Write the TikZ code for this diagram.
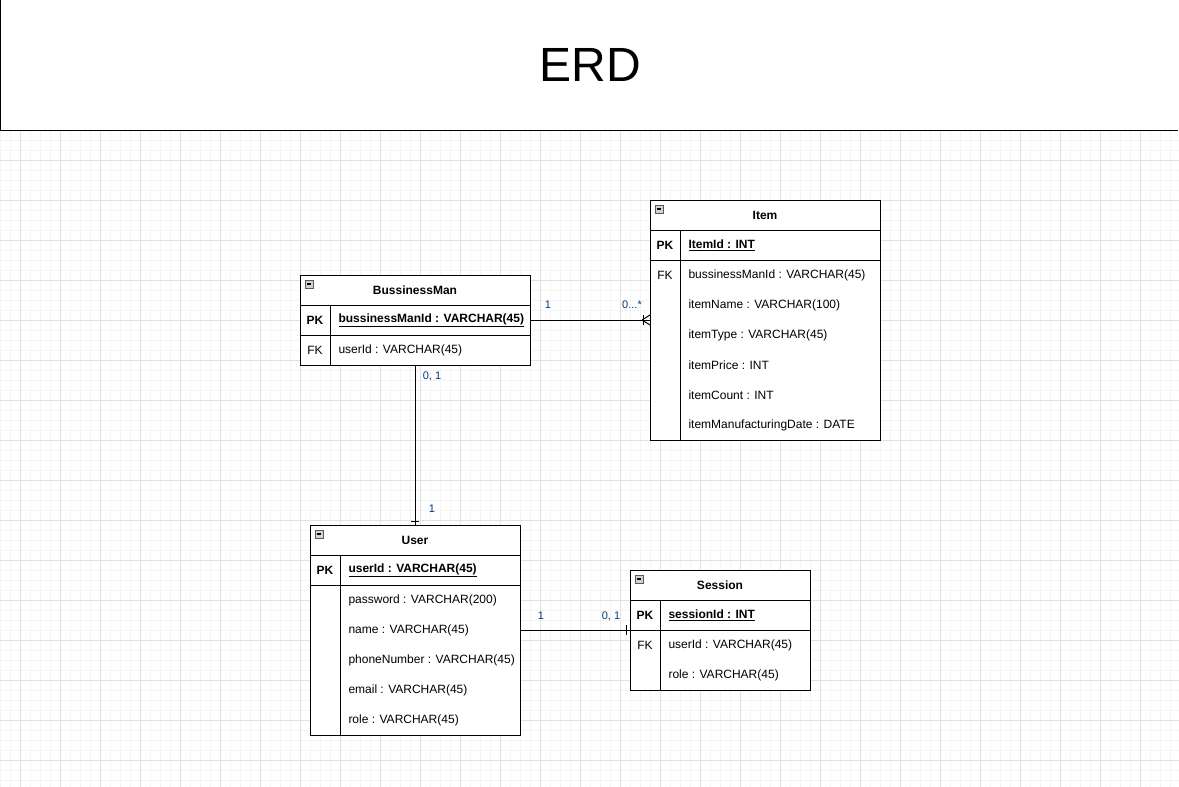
\documentclass[tikz,border=0pt]{standalone}
\usepackage{fontspec}
\setmainfont{Liberation Sans}

\definecolor{gridminor}{RGB}{244,244,244}
\definecolor{gridmajor}{RGB}{226,226,226}
\definecolor{cardblue}{RGB}{0,60,120}

\tikzset{
  tbl/.style={draw, line width=1pt, inner sep=0pt, outer sep=0pt, anchor=north west, fill=white},
  ttl/.style={font=\fontsize{12}{14}\selectfont\bfseries},
  key/.style={font=\fontsize{12}{14}\selectfont},
  pkey/.style={font=\fontsize{12}{14}\selectfont\bfseries},
  fld/.style={font=\fontsize{12}{14}\selectfont, anchor=west, inner sep=0pt},
  card/.style={font=\fontsize{11}{13}\selectfont, text=cardblue},
  rel/.style={line width=1pt},
  minusicon/.pic={
    \draw[fill=gray!35, draw=gray!70!black, line width=0.6pt] (5,5) rectangle (13,13);
    \draw[line width=1.2pt] (6.8,9) -- (11.2,9);
  }
}

\begin{document}
\begin{tikzpicture}[x=1pt, y=-1pt, line width=1pt]
\useasboundingbox (0,0) rectangle (1179,787);

% background grid
\foreach \x in {0,10,...,1170} \draw[gridminor] (\x,130) -- (\x,787);
\foreach \y in {140,150,...,780} \draw[gridminor] (0,\y) -- (1179,\y);
\foreach \x in {20,60,...,1140} \draw[gridmajor] (\x,130) -- (\x,787);
\foreach \y in {160,200,...,760} \draw[gridmajor] (0,\y) -- (1179,\y);

% title bar
\draw (0,0) -- (0,130) -- (1178,130);
\node[font=\fontsize{48}{56}\selectfont] (title) at (590,65) {ERD};

% BussinessMan table
\node[tbl, minimum width=230pt, minimum height=90pt] (bm) at (300,275) {};
\draw (300,305) -- (530,305);
\draw (300,335) -- (530,335);
\draw (330,305) -- (330,365);
\pic at (bm.north west) {minusicon};
\node[ttl] (bmname) at (415,290) {BussinessMan};
\node[pkey] (bmpk) at (315,320) {PK};
\node[fld] (bmid) at (338,320) {\bfseries\underline{bussinessManId : VARCHAR(45)}};
\node[key] (bmfk) at (315,350) {FK};
\node[fld] (bmuser) at (338,350) {userId : VARCHAR(45)};

% Item table
\node[tbl, minimum width=230pt, minimum height=240pt] (item) at (650,200) {};
\draw (650,230) -- (880,230);
\draw (650,260) -- (880,260);
\draw (680,230) -- (680,440);
\pic at (item.north west) {minusicon};
\node[ttl] (itemname) at (765,215) {Item};
\node[pkey] (itempk) at (665,245) {PK};
\node[fld] (itemid) at (688,245) {\bfseries\underline{ItemId : INT}};
\node[key] (itemfk) at (665,275) {FK};
\foreach \f [count=\i] in {bussinessManId : VARCHAR(45), itemName : VARCHAR(100), itemType : VARCHAR(45), itemPrice : INT, itemCount : INT, itemManufacturingDate : DATE}
  \node[fld] (itemf\i) at (688,245+30*\i) {\f};

% User table
\node[tbl, minimum width=210pt, minimum height=210pt] (usr) at (310,525) {};
\draw (310,555) -- (520,555);
\draw (310,585) -- (520,585);
\draw (340,555) -- (340,735);
\pic at (usr.north west) {minusicon};
\node[ttl] (usrname) at (415,540) {User};
\node[pkey] (usrpk) at (325,570) {PK};
\node[fld] (usrid) at (348,570) {\bfseries\underline{userId : VARCHAR(45)}};
\foreach \f [count=\i] in {password : VARCHAR(200), name : VARCHAR(45), phoneNumber : VARCHAR(45), email : VARCHAR(45), role : VARCHAR(45)}
  \node[fld] (usrf\i) at (348,570+30*\i) {\f};

% Session table
\node[tbl, minimum width=180pt, minimum height=120pt] (sess) at (630,570) {};
\draw (630,600) -- (810,600);
\draw (630,630) -- (810,630);
\draw (660,600) -- (660,690);
\pic at (sess.north west) {minusicon};
\node[ttl] (sessname) at (720,585) {Session};
\node[pkey] (sesspk) at (645,615) {PK};
\node[fld] (sessid) at (668,615) {\bfseries\underline{sessionId : INT}};
\node[key] (sessfk) at (645,645) {FK};
\node[fld] (sessf1) at (668,645) {userId : VARCHAR(45)};
\node[fld] (sessf2) at (668,675) {role : VARCHAR(45)};

% relations
\draw[rel] (bm.east) -- (item.west); % one to many
\draw[rel] (item.west) ++(-8,0) -- ++(8,-5) ++(-8,5) -- ++(8,5);
\draw[rel] (item.west) ++(-7,-5) -- ++(0,10);
\draw[rel] (bm.south) -- (usr.north); % one to one
\draw[rel] (usr.north) ++(-4,-4) -- ++(8,0);
\draw[rel] (usr.east) -- (sess.west); % one to one
\draw[rel] (sess.west) ++(-4,-5) -- ++(0,10);

% cardinalities
\node[card] (c1) at (548,305) {1};
\node[card] (c2) at (632,305) {0...*};
\node[card] (c3) at (432,376) {0, 1};
\node[card] (c4) at (432,509) {1};
\node[card] (c5) at (541,616) {1};
\node[card] (c6) at (611,616) {0, 1};
\end{tikzpicture}
\end{document}
